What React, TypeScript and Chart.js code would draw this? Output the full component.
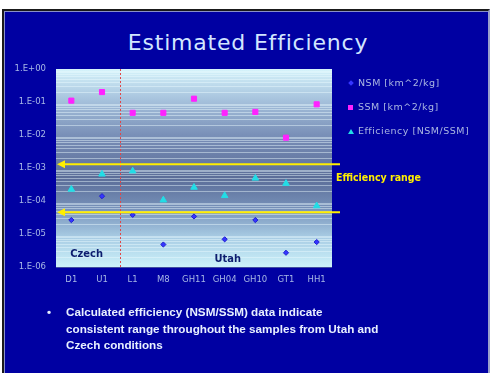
import React, { useEffect, useRef } from "react";
import { Chart, registerables } from "chart.js";

Chart.register(...registerables);

const categories = ["D1", "U1", "L1", "M8", "GH11", "GH04", "GH10", "GT1", "HH1"];
const nsmValues = [2.65e-5, 1.4e-4, 3.8e-5, 4.8e-6, 3.4e-5, 6.9e-6, 2.65e-5, 2.7e-6, 5.7e-6];
const ssmValues = [0.11, 0.2, 0.047, 0.047, 0.126, 0.047, 0.05, 0.0083, 0.085];
const efficiencyValues = [2.26e-4, 6.5e-4, 8.1e-4, 1.07e-4, 2.6e-4, 1.45e-4, 4.9e-4, 3.4e-4, 7.1e-5];
const seriesNames = ["NSM [km^2/kg]", "SSM [km^2/kg]", "Efficiency [NSM/SSM]"];
const yTickLabels = ["1.E-06", "1.E-05", "1.E-04", "1.E-03", "1.E-02", "1.E-01", "1.E+00"];
const rangeBounds = [1.3e-3, 4.6e-5];
const rangeLabel = "Efficiency range";
const rangeLabelValue = 5e-4;
const dividerIndex = 1.6;
const regionLabels = ["Czech", "Utah"];
const regionIndex = [0.5, 5.1];
const regionValue = [2.4e-6, 1.7e-6];
const title = "Estimated Efficiency";
const bulletLines = [
  "Calculated efficiency (NSM/SSM) data indicate",
  "consistent range throughout the samples from Utah and",
  "Czech conditions",
];

const colors = { nsm: "#3535ff", ssm: "#ff22ff", eff: "#22dde6" };

export default function App() {
  const ref = useRef<HTMLCanvasElement | null>(null);
  useEffect(() => {
    document.body.style.margin = "0";
    const canvas = ref.current!;
    const overlay = {
      id: "overlay",
      beforeDatasetsDraw(chart: any) {
        const { ctx, chartArea: a, scales } = chart;
        const y = scales.y;
        ctx.save();
        const g = ctx.createLinearGradient(0, a.top, 0, a.bottom);
        g.addColorStop(0, "#d6f4fb");
        g.addColorStop(0.15, "#a8c4de");
        g.addColorStop(0.33, "#7a90b8");
        g.addColorStop(0.55, "#5b6d98");
        g.addColorStop(0.7, "#7690b8");
        g.addColorStop(0.85, "#a8cce4");
        g.addColorStop(1, "#cdf2fa");
        ctx.fillStyle = g;
        ctx.fillRect(a.left, a.top, a.right - a.left, a.bottom - a.top);
        ctx.strokeStyle = "rgba(235,250,255,0.45)";
        ctx.lineWidth = 1;
        for (let e = -6; e < 0; e++) {
          for (let k = 2; k <= 9; k++) {
            const py = Math.round(y.getPixelForValue(k * Math.pow(10, e))) + 0.5;
            ctx.beginPath();
            ctx.moveTo(a.left, py);
            ctx.lineTo(a.right, py);
            ctx.stroke();
          }
        }
        ctx.restore();
      },
      afterDatasetsDraw(chart: any) {
        const { ctx, chartArea: a, scales } = chart;
        const x = scales.x;
        const y = scales.y;
        ctx.save();
        const dx = Math.round(x.getPixelForValue(dividerIndex)) + 0.5;
        ctx.strokeStyle = "#e04848";
        ctx.lineWidth = 1;
        ctx.setLineDash([2, 2]);
        ctx.beginPath();
        ctx.moveTo(dx, a.top);
        ctx.lineTo(dx, a.bottom);
        ctx.stroke();
        ctx.setLineDash([]);
        ctx.strokeStyle = "#ffee00";
        ctx.fillStyle = "#ffee00";
        ctx.lineWidth = 2;
        rangeBounds.forEach((v) => {
          const py = y.getPixelForValue(v);
          ctx.beginPath();
          ctx.moveTo(a.left + 6, py);
          ctx.lineTo(a.right + 8, py);
          ctx.stroke();
          ctx.beginPath();
          ctx.moveTo(a.left + 1, py);
          ctx.lineTo(a.left + 9, py - 4);
          ctx.lineTo(a.left + 9, py + 4);
          ctx.closePath();
          ctx.fill();
        });
        ctx.font = "bold 10.5px 'DejaVu Sans Condensed', 'DejaVu Sans'";
        ctx.textBaseline = "middle";
        ctx.textAlign = "left";
        ctx.fillText(rangeLabel, a.right + 4, y.getPixelForValue(rangeLabelValue));
        ctx.fillStyle = "#0c1c6e";
        ctx.textAlign = "center";
        ctx.font = "bold 11px 'DejaVu Sans Condensed', 'DejaVu Sans'";
        regionLabels.forEach((t, i) => {
          ctx.fillText(t, x.getPixelForValue(regionIndex[i]), y.getPixelForValue(regionValue[i]));
        });
        ctx.restore();
      },
    };
    const chart = new Chart(canvas, {
      type: "line",
      data: {
        labels: categories,
        datasets: [
          { label: seriesNames[0], data: nsmValues, showLine: false, pointStyle: "rectRot", pointRadius: 2.6, backgroundColor: colors.nsm, borderColor: "#2020d0", borderWidth: 1 },
          { label: seriesNames[1], data: ssmValues, showLine: false, pointStyle: "rect", pointRadius: 3.6, backgroundColor: colors.ssm, borderColor: colors.ssm, borderWidth: 1 },
          { label: seriesNames[2], data: efficiencyValues, showLine: false, pointStyle: "triangle", pointRadius: 3.8, backgroundColor: colors.eff, borderColor: colors.eff, borderWidth: 1 },
        ],
      },
      options: {
        responsive: false,
        animation: false,
        layout: { padding: { left: 0, top: 69, right: 158, bottom: 82 } },
        plugins: { legend: { display: false }, tooltip: { enabled: false } },
        scales: {
          x: {
            type: "category",
            offset: true,
            grid: { display: false, drawTicks: false },
            border: { display: false },
            ticks: { color: "#a8b8e6", font: { family: "'DejaVu Sans'", size: 8.5 }, padding: 8, maxRotation: 0, autoSkip: false },
            afterFit(s: any) { s.height = 24; },
          },
          y: {
            type: "logarithmic",
            min: 1e-6,
            max: 1,
            grid: { drawTicks: false, color: "rgba(120,140,160,0.55)" },
            border: { display: false },
            ticks: {
              autoSkip: false,
              padding: 10,
              color: "#a8b8e6",
              font: { family: "'DejaVu Sans'", size: 8.5 },
              callback: (v: any) => {
                const e = Math.log10(Number(v));
                if (Math.abs(e - Math.round(e)) > 1e-6) return null;
                const idx = Math.round(e) + 6;
                return yTickLabels[idx] ?? null;
              },
            },
            afterFit(s: any) { s.width = 56; },
          },
        },
      },
      plugins: [overlay],
    } as any);
    return () => chart.destroy();
  }, []);

  const legendMarker = (i: number) => {
    if (i === 0)
      return <span style={{ display: "inline-block", width: 4, height: 4, background: colors.nsm, transform: "rotate(45deg)", marginRight: 5, marginLeft: 1 }} />;
    if (i === 1)
      return <span style={{ display: "inline-block", width: 5, height: 5, background: colors.ssm, marginRight: 5 }} />;
    return (
      <span style={{ display: "inline-block", width: 0, height: 0, borderLeft: "3px solid transparent", borderRight: "3px solid transparent", borderBottom: `5px solid ${colors.eff}`, marginRight: 4 }} />
    );
  };

  return (
    <div style={{ position: "fixed", left: 0, top: 0, width: 490, height: 373, background: "#ffffff", overflow: "hidden" }}>
      <div style={{ position: "absolute", left: 2, top: 9, width: 484, height: 370, borderLeft: "2px solid #1a1a1a", borderTop: "2px solid #1a1a1a", borderRight: "2px solid #9aa0cc", background: "#0000a2", boxShadow: "inset 1px 1px 0 0 #8a90c8" }} />
      <div style={{ position: "absolute", left: 3, top: 30, width: 490, textAlign: "center", color: "#d2e6ff", fontFamily: "'DejaVu Sans'", fontSize: 22, letterSpacing: 0.8, lineHeight: "26px" }}>{title}</div>
      <canvas ref={ref} width={490} height={373} style={{ position: "absolute", left: 0, top: 0, width: 490, height: 373 }} />
      <div style={{ position: "absolute", left: 348, top: 77, fontFamily: "'DejaVu Sans'", fontSize: 9.5, letterSpacing: 0.5, color: "#aab6e2", lineHeight: "12px" }}>
        {seriesNames.map((n, i) => (
          <div key={n} style={{ display: "flex", alignItems: "center", height: 12, marginBottom: 12, whiteSpace: "nowrap" }}>
            {legendMarker(i)}
            <span>{n}</span>
          </div>
        ))}
      </div>
      <div style={{ position: "absolute", left: 47, top: 304, fontFamily: "'Liberation Sans', Arial", fontWeight: "bold", fontSize: 11.7, lineHeight: "16.5px", color: "#e8f0ff" }}>
        <span style={{ position: "absolute", left: 0, top: 0 }}>•</span>
        <div style={{ marginLeft: 19 }}>
          {bulletLines.map((l) => (
            <div key={l} style={{ whiteSpace: "nowrap" }}>{l}</div>
          ))}
        </div>
      </div>
    </div>
  );
}
